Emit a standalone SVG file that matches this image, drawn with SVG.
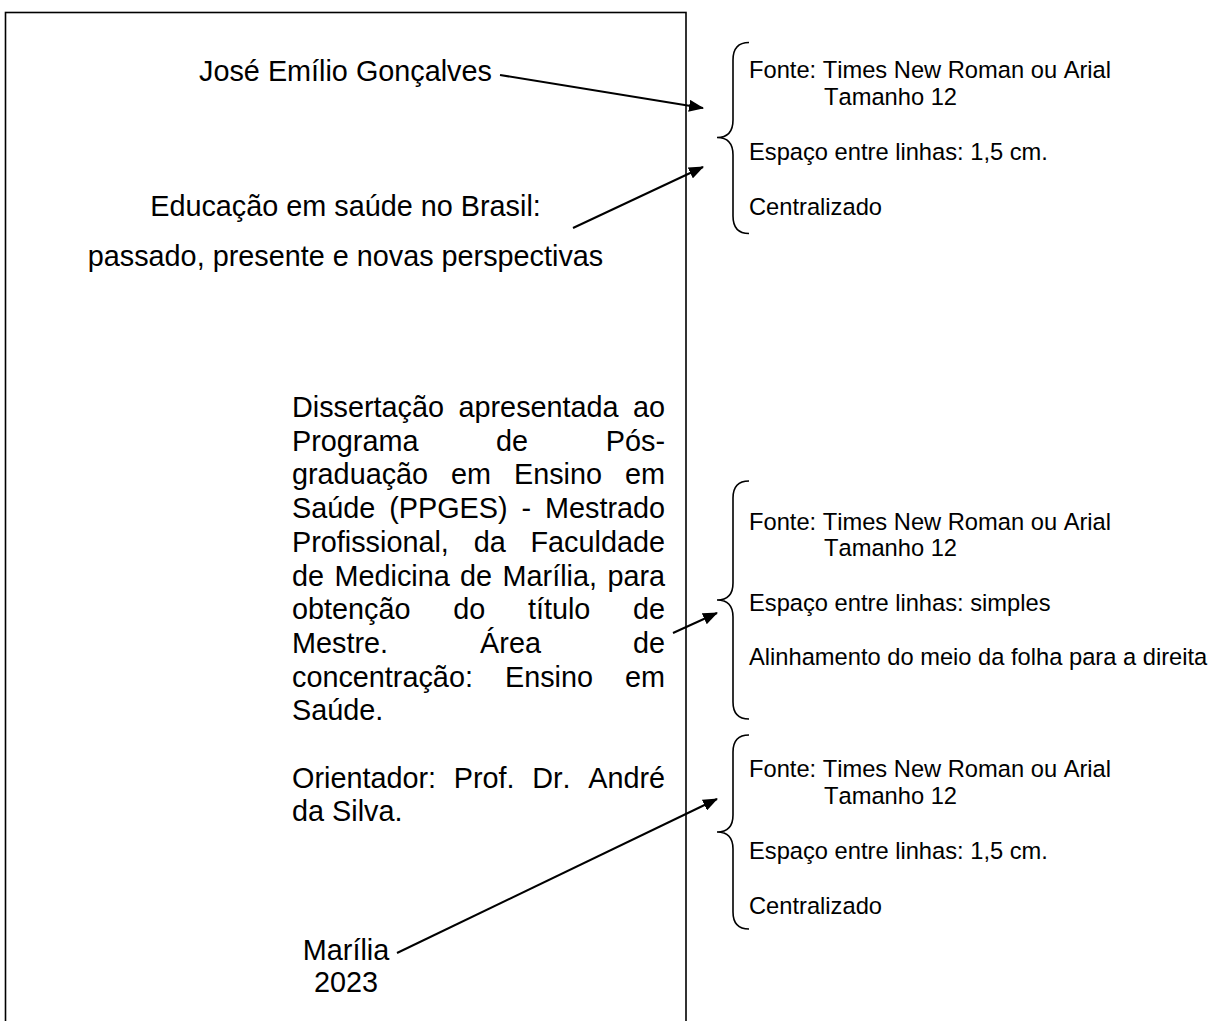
<svg xmlns="http://www.w3.org/2000/svg" width="1227" height="1021" viewBox="0 0 1227 1021">
  <style>
    .main { font-family: "Liberation Sans", Arial, sans-serif; font-size: 28.8px; fill: #000; font-kerning: none; }
    .note { font-family: "Liberation Sans", Arial, sans-serif; font-size: 23.7px; fill: #000; font-kerning: none; }
    .ctr { text-anchor: middle; }
    .brace { fill: none; stroke: #000; stroke-width: 1.6; }
    .conn { fill: none; stroke: #000; stroke-width: 2; marker-end: url(#arrow); }
    .page { fill: #fff; stroke: #000; stroke-width: 1.6; }
  </style>
  <defs>
    <marker id="arrow" markerUnits="userSpaceOnUse" markerWidth="15" markerHeight="12" refX="14" refY="6" orient="auto">
      <path d="M0,0 L15,6 L0,12 Z" fill="#000"/>
    </marker>
  </defs>
  <rect width="1227" height="1021" fill="#fff"/>

  <g id="page">
    <rect class="page" x="5.5" y="12.5" width="680.5" height="1100"/>
  </g>

  <g id="author">
    <text class="main ctr" x="345.5" y="81">José Emílio Gonçalves</text>
  </g>

  <g id="title">
    <text class="main ctr" x="345.5" y="215.5">Educação em saúde no Brasil:</text>
    <text class="main ctr" x="345.5" y="265.5">passado, presente e novas perspectivas</text>
  </g>

  <g id="dissertation">
    <text class="main" y="417"><tspan x="292">Dissertação </tspan><tspan x="458.5">apresentada </tspan><tspan x="633">ao</tspan></text>
    <text class="main" y="450.7"><tspan x="292">Programa </tspan><tspan x="496.1">de </tspan><tspan x="605.8">Pós-</tspan></text>
    <text class="main" y="484.4"><tspan x="292">graduação </tspan><tspan x="451.1">em </tspan><tspan x="514">Ensino </tspan><tspan x="625">em</tspan></text>
    <text class="main" y="518.1"><tspan x="292">Saúde </tspan><tspan x="389.2">(PPGES) </tspan><tspan x="521.5">- </tspan><tspan x="545">Mestrado</tspan></text>
    <text class="main" y="551.8"><tspan x="292">Profissional, </tspan><tspan x="473.7">da </tspan><tspan x="530.5">Faculdade</tspan></text>
    <text class="main" y="585.5"><tspan x="292">de </tspan><tspan x="334.5">Medicina </tspan><tspan x="460.1">de </tspan><tspan x="502.6">Marília, </tspan><tspan x="607.4">para</tspan></text>
    <text class="main" y="619.2"><tspan x="292">obtenção </tspan><tspan x="453.2">do </tspan><tspan x="527.9">título </tspan><tspan x="633">de</tspan></text>
    <text class="main" y="652.9"><tspan x="292">Mestre. </tspan><tspan x="480.1">Área </tspan><tspan x="633">de</tspan></text>
    <text class="main" y="686.6"><tspan x="292">concentração: </tspan><tspan x="505">Ensino </tspan><tspan x="625">em</tspan></text>
    <text class="main" x="292" y="720.3">Saúde.</text>
  </g>

  <g id="advisor">
    <text class="main" y="787.7"><tspan x="292">Orientador: </tspan><tspan x="453.7">Prof. </tspan><tspan x="532.2">Dr. </tspan><tspan x="588.2">André</tspan></text>
    <text class="main" x="292" y="821.4">da Silva.</text>
  </g>

  <g id="place-year">
    <text class="main ctr" x="346" y="960">Marília</text>
    <text class="main ctr" x="346" y="992">2023</text>
  </g>

  <g id="note-top">
    <path class="brace" d="M749,42.5 Q733,42.5 733,60 L733,120 Q733,137.5 717,137.5 Q733,137.5 733,155 L733,216 Q733,233.5 749,233.5"/>
    <text class="note" x="749" y="78">Fonte: Times New Roman ou Arial</text>
    <text class="note" x="824" y="105">Tamanho 12</text>
    <text class="note" x="749" y="160">Espaço entre linhas: 1,5 cm.</text>
    <text class="note" x="749" y="215">Centralizado</text>
  </g>

  <g id="note-middle">
    <path class="brace" d="M749,481 Q733,481 733,498 L733,583 Q733,600 717,600 Q733,600 733,617 L733,702 Q733,719 749,719"/>
    <text class="note" x="749" y="530">Fonte: Times New Roman ou Arial</text>
    <text class="note" x="824" y="556">Tamanho 12</text>
    <text class="note" x="749" y="611">Espaço entre linhas: simples</text>
    <text class="note" x="749" y="665">Alinhamento do meio da folha para a direita</text>
  </g>

  <g id="note-bottom">
    <path class="brace" d="M749,735 Q733,735 733,752 L733,815 Q733,832 717,832 Q733,832 733,849 L733,912 Q733,929 749,929"/>
    <text class="note" x="749" y="777">Fonte: Times New Roman ou Arial</text>
    <text class="note" x="824" y="804">Tamanho 12</text>
    <text class="note" x="749" y="859">Espaço entre linhas: 1,5 cm.</text>
    <text class="note" x="749" y="914">Centralizado</text>
  </g>

  <g id="connectors">
    <line class="conn" x1="500" y1="75" x2="703" y2="108"/>
    <line class="conn" x1="573" y1="228" x2="703" y2="167"/>
    <line class="conn" x1="673" y1="633" x2="717" y2="613"/>
    <line class="conn" x1="397" y1="953" x2="717" y2="799"/>
  </g>
</svg>
